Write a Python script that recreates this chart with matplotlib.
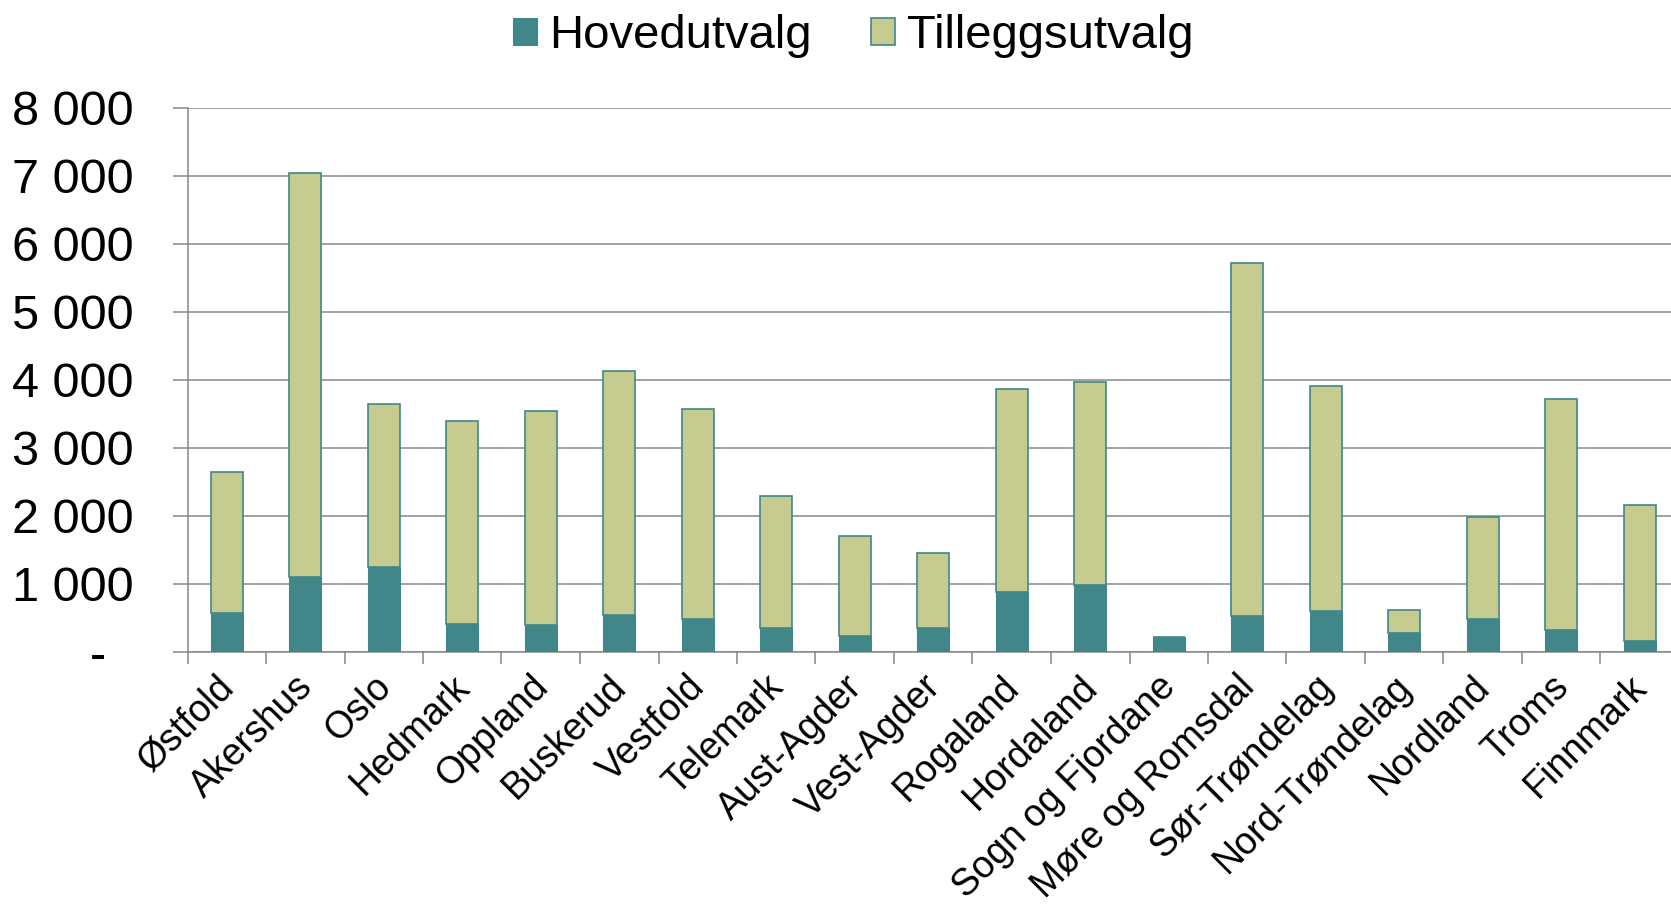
import numpy as np
import matplotlib.pyplot as plt
from matplotlib.transforms import ScaledTranslation

plt.rcParams['font.family'] = ['Liberation Sans', 'DejaVu Sans']

fylker = ['Østfold', 'Akershus', 'Oslo', 'Hedmark', 'Oppland', 'Buskerud', 'Vestfold',
          'Telemark', 'Aust-Agder', 'Vest-Agder', 'Rogaland', 'Hordaland', 'Sogn og Fjordane',
          'Møre og Romsdal', 'Sør-Trøndelag', 'Nord-Trøndelag', 'Nordland', 'Troms', 'Finnmark']
hovedutvalg = [575, 1110, 1250, 405, 395, 545, 485, 355, 235, 355, 885, 985, 220,
               525, 610, 280, 490, 325, 165]
totalt = [2645, 7045, 3650, 3400, 3545, 4130, 3580, 2295, 1710, 1450, 3870, 3970, 220,
          5715, 3905, 615, 1985, 3725, 2155]
tillegg = [t - h for t, h in zip(totalt, hovedutvalg)]
yticks = [0, 1000, 2000, 3000, 4000, 5000, 6000, 7000, 8000]
ylabels = ['-  ', '1 000', '2 000', '3 000', '4 000', '5 000', '6 000', '7 000', '8 000']

teal = '#41878A'
olive = '#C6CC8F'
grid = '#878787'

fig = plt.figure(figsize=(16.71, 9.06), dpi=100)
ax = fig.add_axes([187.5/1671, 1-652/906, (1679-187.5)/1671, (652-107.9)/906])

x = np.arange(len(fylker))
ax.bar(x, hovedutvalg, width=0.405, color=teal, edgecolor=teal, linewidth=0.8,
       label='Hovedutvalg', zorder=3)
ax.bar(x, tillegg, width=0.405, bottom=hovedutvalg, color=olive, edgecolor=teal,
       linewidth=1.2, label='Tilleggsutvalg', zorder=3)

ax.set_xlim(-0.5, len(fylker) - 0.5)
ax.set_ylim(0, 8000)
ax.set_yticks(yticks)
ax.set_yticklabels(ylabels, fontsize=35)
ax.yaxis.grid(True, color=grid, linewidth=1.1, zorder=0)
ax.tick_params(axis='y', direction='out', length=10.5, width=1.1, color=grid, pad=28.5)

ax.set_xticks(x)
ax.set_xticklabels(fylker, fontsize=27, rotation=45, ha='right', rotation_mode='anchor')
ax.set_xticks(np.arange(-0.5, len(fylker)), minor=True)
ax.tick_params(axis='x', which='major', length=0, pad=12)
ax.tick_params(axis='x', which='minor', direction='out', length=8.4, width=1.1, color=grid)
for lbl in ax.get_xticklabels():
    lbl.set_transform(lbl.get_transform() + ScaledTranslation(-8/72, 0, fig.dpi_scale_trans))

for s in ['top', 'right']:
    ax.spines[s].set_visible(False)
for s in ['left', 'bottom']:
    ax.spines[s].set_color(grid)
    ax.spines[s].set_linewidth(1.1)

fig.legend(loc='center', bbox_to_anchor=(0.5106, 0.960), ncol=2, frameon=False,
           fontsize=34, handlelength=0.51, handleheight=0.53, handletextpad=0.25,
           columnspacing=1.25)

fig.savefig('out.png', dpi=100)
